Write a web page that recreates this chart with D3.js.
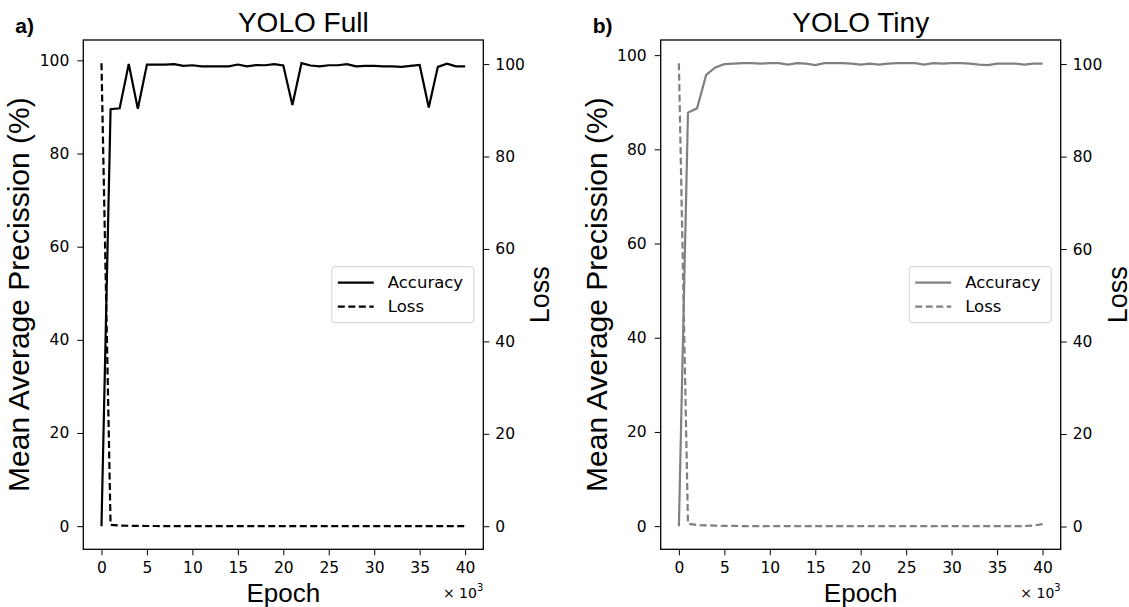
<!DOCTYPE html>
<html>
<head>
<meta charset="utf-8">
<script src="https://d3js.org/d3.v7.min.js"></script>
<style>
  body { margin: 0; background: #fff; }
  svg { display: block; }
  text { font-family: "Liberation Sans", Arial, sans-serif; }
  .tick text, .legend text, .offset { font-family: "DejaVu Sans", sans-serif; }
</style>
</head>
<body>
<svg width="1129" height="607"></svg>
<script>
// epochs in thousands
var epochs = d3.range(0, 41);

// YOLO Full
var fullAccuracy = [0, 89.5, 89.7, 99.2, 89.6, 99.1, 99.1, 99.1, 99.2, 98.8,
  98.95, 98.7, 98.7, 98.7, 98.7, 99.1, 98.7, 99.0, 98.95, 99.2,
  98.9, 90.4, 99.4, 98.9, 98.7, 98.95, 98.95, 99.2, 98.7, 98.8,
  98.8, 98.7, 98.7, 98.6, 98.8, 99.0, 89.9, 98.6, 99.3, 98.7, 98.7];
var fullLoss = [100.2, 0.3, 0.15, 0.1, 0.08, 0.05, 0.05, 0.04, 0.04, 0.03,
  0.03, 0.03, 0.03, 0.02, 0.02, 0.02, 0.02, 0.02, 0.02, 0.02,
  0.02, 0.03, 0.02, 0.02, 0.02, 0.02, 0.02, 0.02, 0.02, 0.02,
  0.02, 0.02, 0.02, 0.02, 0.02, 0.02, 0.03, 0.02, 0.02, 0.02, 0.02];

// YOLO Tiny
var tinyAccuracy = [0, 87.8, 88.7, 95.8, 97.4, 98.1, 98.2, 98.3, 98.3, 98.2,
  98.3, 98.3, 98.0, 98.3, 98.2, 97.9, 98.3, 98.3, 98.3, 98.2,
  98.0, 98.2, 98.0, 98.2, 98.3, 98.3, 98.3, 98.0, 98.3, 98.2,
  98.3, 98.3, 98.2, 98.0, 97.9, 98.2, 98.2, 98.2, 98.0, 98.2, 98.2];
var tinyLoss = [100.2, 0.6, 0.35, 0.25, 0.2, 0.15, 0.12, 0.1, 0.1, 0.1,
  0.08, 0.08, 0.08, 0.08, 0.08, 0.08, 0.08, 0.08, 0.08, 0.08,
  0.08, 0.08, 0.08, 0.08, 0.08, 0.08, 0.08, 0.08, 0.08, 0.08,
  0.08, 0.08, 0.08, 0.08, 0.08, 0.08, 0.08, 0.08, 0.1, 0.2, 0.5];

var xTicks = [0, 5, 10, 15, 20, 25, 30, 35, 40];
var yTicks = [0, 20, 40, 60, 80, 100];
var titles = ["YOLO Full", "YOLO Tiny"];
var letters = ["a)", "b)"];
var seriesNames = ["Accuracy", "Loss"];

var svg = d3.select("svg");
var plotTop = 40, plotBottom = 549.3, plotW = 400;

// matplotlib-like 5% padding
function padded(ext) {
  var s = ext[1] - ext[0];
  return [ext[0] - 0.05 * s, ext[1] + 0.05 * s];
}

function drawPanel(left, title, titleShift, letter, acc, loss, color) {
  var g = svg.append("g");
  var x = d3.scaleLinear().domain(padded(d3.extent(epochs))).range([left, left + plotW]);
  var y = d3.scaleLinear().domain(padded(d3.extent(acc))).range([plotBottom, plotTop]);
  var y2 = d3.scaleLinear().domain(padded(d3.extent(loss))).range([plotBottom, plotTop]);

  // axes
  var xAxis = g.append("g").attr("transform", "translate(0," + plotBottom + ")")
    .call(d3.axisBottom(x).tickValues(xTicks).tickSize(6).tickPadding(7));
  var yAxis = g.append("g").attr("transform", "translate(" + left + ",0)")
    .call(d3.axisLeft(y).tickValues(yTicks).tickSize(6).tickPadding(8));
  var y2Axis = g.append("g").attr("transform", "translate(" + (left + plotW) + ",0)")
    .call(d3.axisRight(y2).tickValues(yTicks).tickSize(6).tickPadding(6));
  [xAxis, yAxis, y2Axis].forEach(function(a) {
    a.select(".domain").remove();
    a.selectAll(".tick line").attr("stroke", "#000").attr("stroke-width", 1);
    a.selectAll(".tick text").attr("font-size", 15.5).attr("fill", "#000");
  });

  // frame
  g.append("rect")
    .attr("x", left).attr("y", plotTop)
    .attr("width", plotW).attr("height", plotBottom - plotTop)
    .attr("fill", "none").attr("stroke", "#000").attr("stroke-width", 1.3);

  // lines
  var lineAcc = d3.line().x(function(d, i) { return x(epochs[i]); }).y(function(d) { return y(d); });
  var lineLoss = d3.line().x(function(d, i) { return x(epochs[i]); }).y(function(d) { return y2(d); });
  g.append("path").datum(acc).attr("d", lineAcc)
    .attr("fill", "none").attr("stroke", color).attr("stroke-width", 2.2);
  g.append("path").datum(loss).attr("d", lineLoss)
    .attr("fill", "none").attr("stroke", color).attr("stroke-width", 2.2)
    .attr("stroke-dasharray", "7,3.5");

  // texts
  var cx = left + plotW / 2;
  g.append("text").attr("x", cx + titleShift).attr("y", 32).attr("text-anchor", "middle")
    .attr("font-size", 28).text(title);
  g.append("text").attr("x", left - 68).attr("y", 33).attr("text-anchor", "start")
    .attr("font-size", 21).attr("font-weight", "bold").text(letter);
  g.append("text").attr("x", cx).attr("y", 602).attr("text-anchor", "middle")
    .attr("font-size", 26).text("Epoch");
  g.append("text").attr("class", "offset").attr("x", left + plotW).attr("y", 598)
    .attr("text-anchor", "end").attr("font-size", 14)
    .html("\u00d7 10<tspan dy='-7' font-size='10'>3</tspan>");
  g.append("text")
    .attr("transform", "translate(" + (left - 54) + "," + ((plotTop + plotBottom) / 2) + ") rotate(-90)")
    .attr("text-anchor", "middle").attr("font-size", 30).text("Mean Average Precission (%)");
  g.append("text")
    .attr("transform", "translate(" + (left + plotW + 66) + "," + ((plotTop + plotBottom) / 2) + ") rotate(-90)")
    .attr("text-anchor", "middle").attr("font-size", 27).text("Loss");

  // legend
  var lg = g.append("g").attr("class", "legend")
    .attr("transform", "translate(" + (left + plotW - 151.5) + "," + ((plotTop + plotBottom) / 2 - 28) + ")");
  lg.append("rect").attr("width", 142).attr("height", 56).attr("rx", 3)
    .attr("fill", "#fff").attr("stroke", "#d0d0d0").attr("stroke-width", 1);
  lg.selectAll("line").data(seriesNames).enter().append("line")
    .attr("x1", 6).attr("x2", 42)
    .attr("y1", function(d, i) { return 16 + i * 24; })
    .attr("y2", function(d, i) { return 16 + i * 24; })
    .attr("stroke", color).attr("stroke-width", 2.2)
    .attr("stroke-dasharray", function(d, i) { return i ? "7,3.5" : null; });
  lg.selectAll("text").data(seriesNames).enter().append("text")
    .attr("x", 56)
    .attr("y", function(d, i) { return 16 + i * 24; })
    .attr("dy", "0.35em").attr("font-size", 16.5).text(function(d) { return d; });
}

drawPanel(83.3, titles[0], 20, letters[0], fullAccuracy, fullLoss, "#000");
drawPanel(660.7, titles[1], 0, letters[1], tinyAccuracy, tinyLoss, "#808080");
</script>
</body>
</html>
